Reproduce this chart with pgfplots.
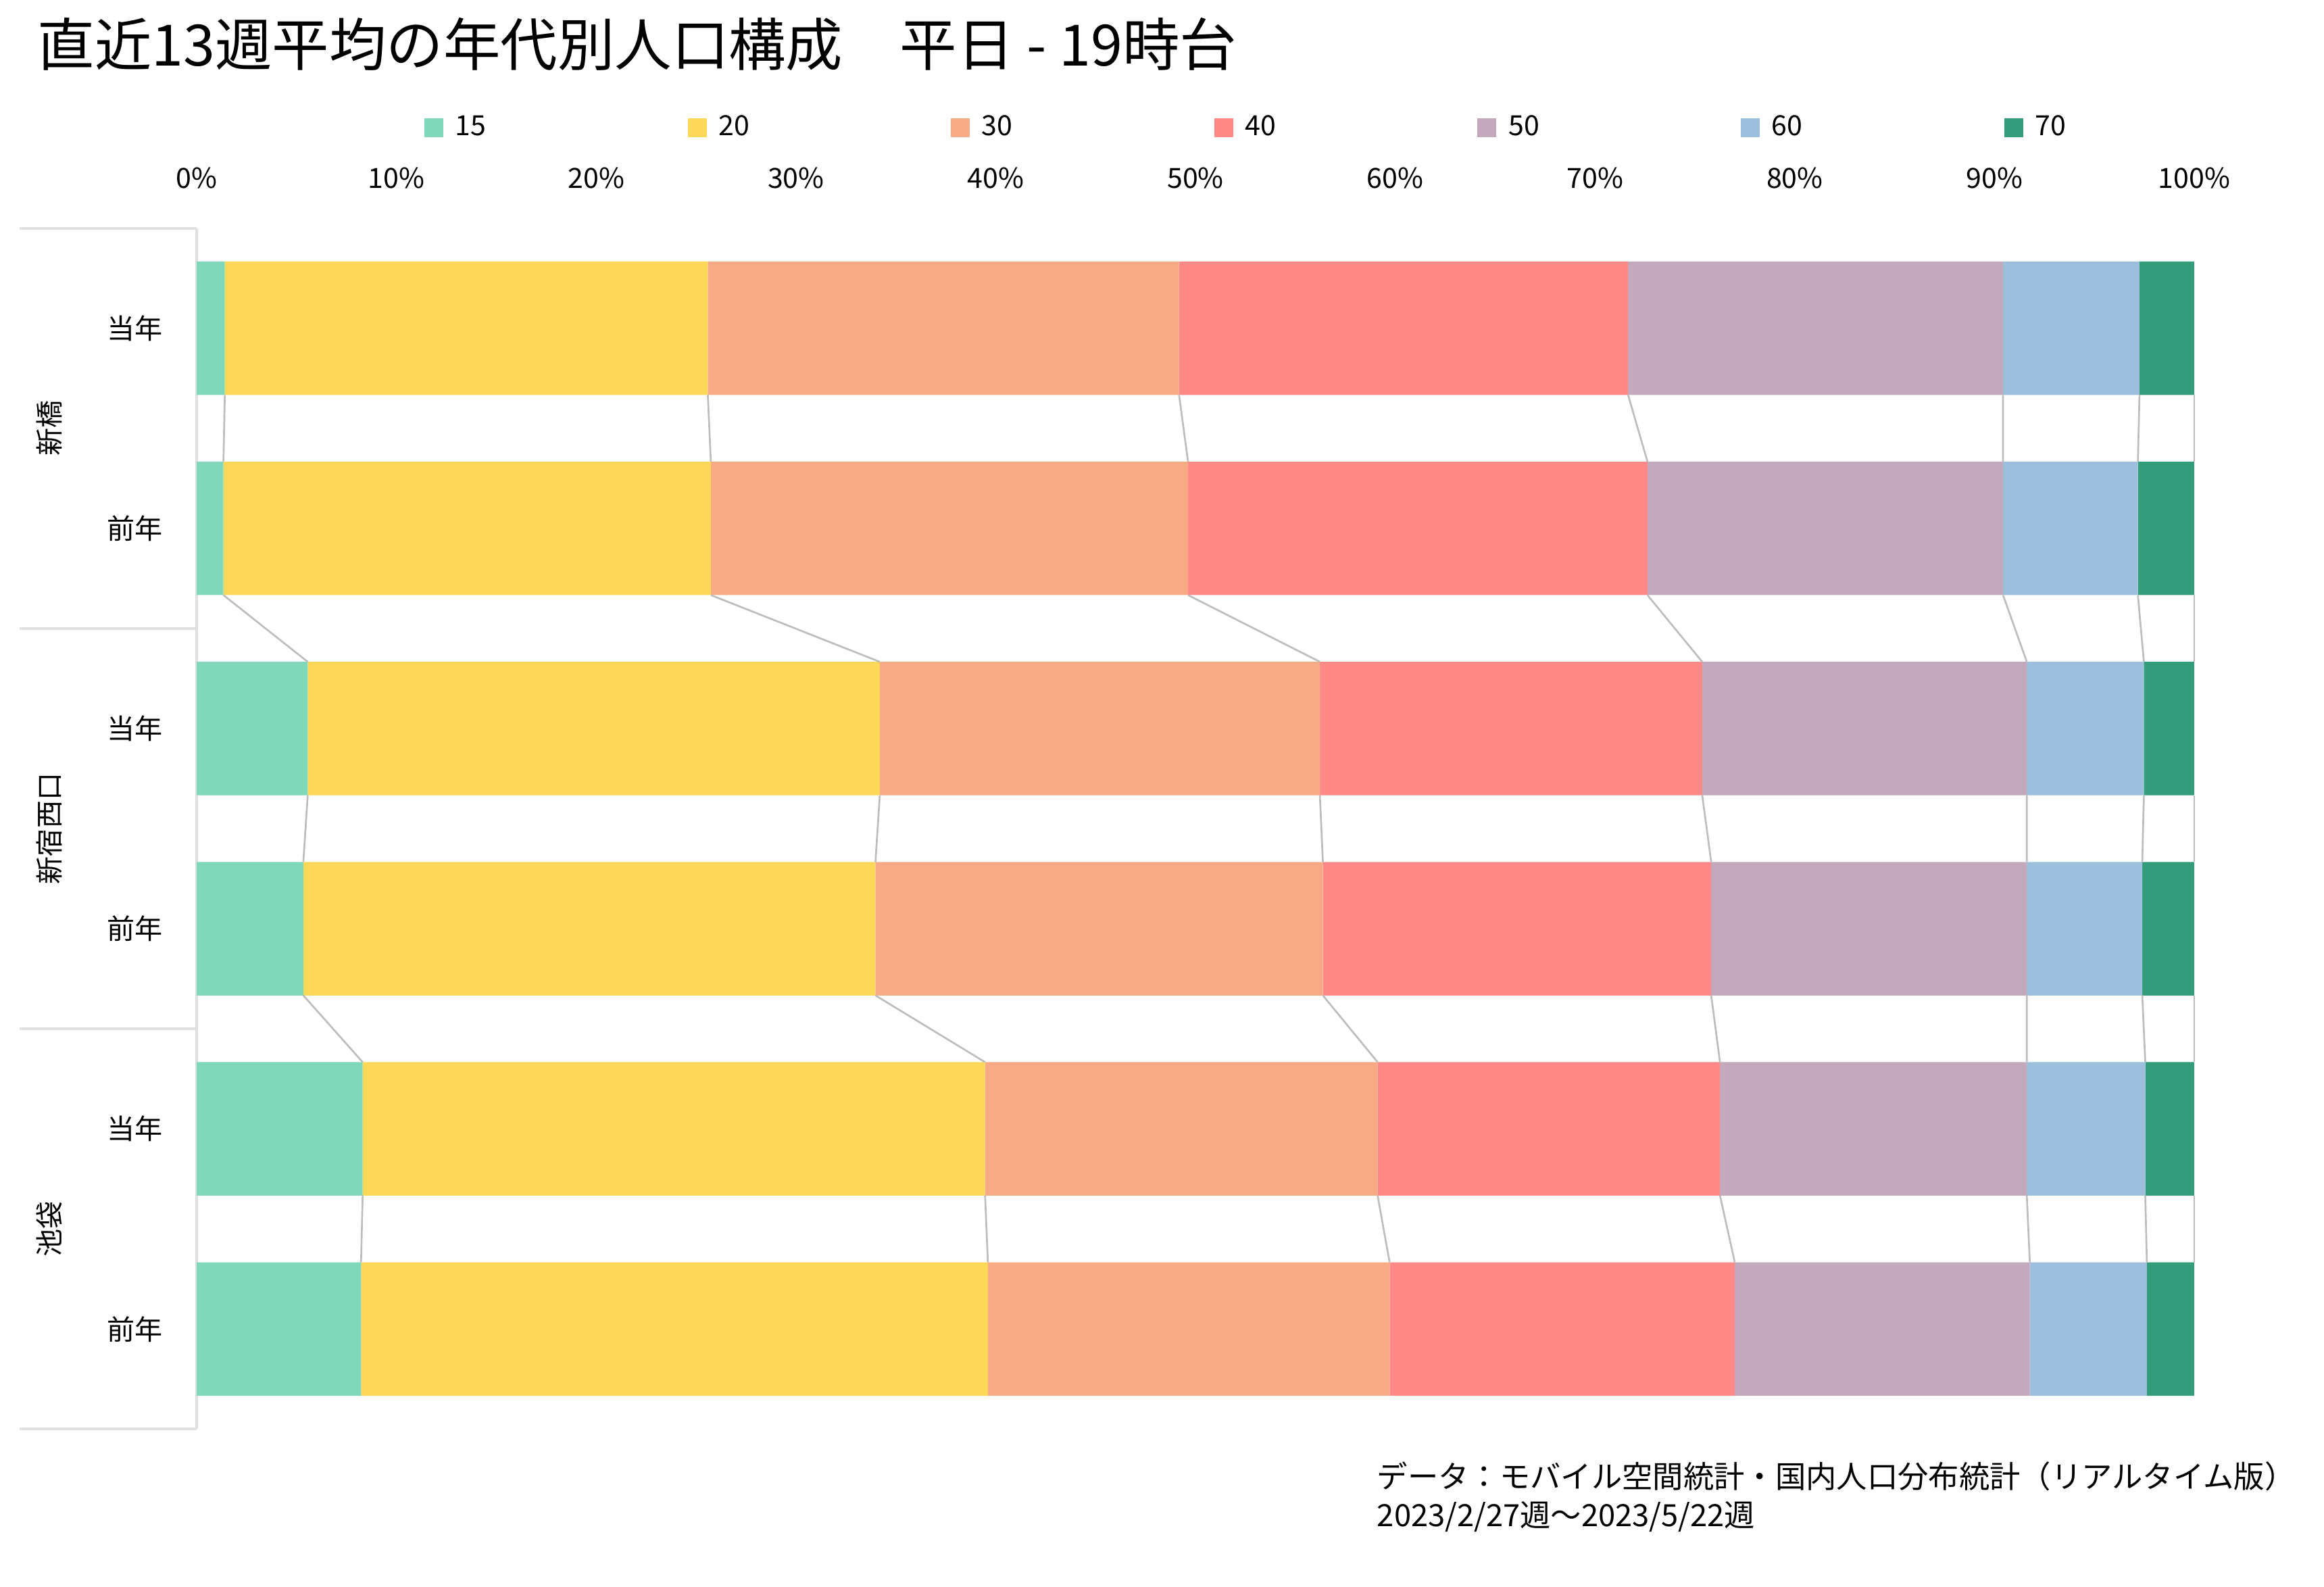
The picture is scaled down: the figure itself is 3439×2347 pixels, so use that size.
\documentclass[border=0pt]{standalone}
\usepackage{fontspec}
\setmainfont{Noto Sans CJK JP}
\usepackage{pgfplots}
\usepackage{pgfplotstable}
\pgfplotsset{compat=1.18}

\definecolor{age15}{HTML}{80D8BA}
\definecolor{age20}{HTML}{FDD757}
\definecolor{age30}{HTML}{F8AA84}
\definecolor{age40}{HTML}{FE8987}
\definecolor{age50}{HTML}{C4A8BB}
\definecolor{age60}{HTML}{9DBFDD}
\definecolor{age70}{HTML}{329C7B}
\definecolor{spine}{HTML}{E0E0E0}
\definecolor{conn}{HTML}{BDBDBD}

\newcommand\lab{\fontsize{9.25}{11}\selectfont}

% share of each age group (%), one row per bar, top bar is y=5
\pgfplotstableread{
y a15 a20 a30 a40 a50 a60 a70
5 1.41 24.18 23.59 22.48 18.77 6.83 2.74
4 1.34 24.40 23.89 23.00 17.80 6.75 2.82
3 5.56 28.64 22.03 19.14 16.25 5.86 2.52
2 5.34 28.64 22.40 19.44 15.80 5.78 2.60
1 8.31 31.16 19.65 17.14 15.36 5.93 2.45
0 8.23 31.38 20.11 17.28 14.77 5.86 2.37
}\shares

% running totals: bottom edge of a bar -> top edge of the next one
\pgfplotstableread{
y b1 b2 b3 b4 b5 b6 b7
4.6667 1.41 25.59 49.18 71.66 90.43 97.26 100
4.3333 1.34 25.74 49.63 72.63 90.43 97.18 100
nan nan nan nan nan nan nan nan
3.6667 1.34 25.74 49.63 72.63 90.43 97.18 100
3.3333 5.56 34.20 56.23 75.37 91.62 97.48 100
nan nan nan nan nan nan nan nan
2.6667 5.56 34.20 56.23 75.37 91.62 97.48 100
2.3333 5.34 33.98 56.38 75.82 91.62 97.40 100
nan nan nan nan nan nan nan nan
1.6667 5.34 33.98 56.38 75.82 91.62 97.40 100
1.3333 8.31 39.47 59.12 76.26 91.62 97.55 100
nan nan nan nan nan nan nan nan
0.6667 8.31 39.47 59.12 76.26 91.62 97.55 100
0.3333 8.23 39.61 59.72 77.00 91.77 97.63 100
}\borders

\pgfplotsset{
  frame/.style={at={(65.48pt,-475.74pt)}, anchor=south west, scale only axis,
    width=665.1pt, height=399.8pt, xmin=0, xmax=100, ymin=-0.5, ymax=5.5,
    enlargelimits=false, clip=false},
  sq/.style={legend image code/.code={\fill[##1] (0pt,-3.15pt) rectangle (6.3pt,3.15pt);}},
  link/.style={conn, line width=0.6pt, unbounded coords=jump, forget plot},
}

\begin{document}
% 1 unit = one pixel of the 3439x2347 image, y pointing down
\begin{tikzpicture}[x=0.225pt,y=-0.225pt]
\useasboundingbox (0,0) rectangle (3439,2347);

\begin{axis}[frame,
  xbar stacked, bar width=0.6667,
  axis line style={draw=none},
  tick style={draw=none}, major tick length=0pt,
  xticklabel pos=upper,
  xtick={0,10,...,100},
  xticklabels={0\%,10\%,20\%,30\%,40\%,50\%,60\%,70\%,80\%,90\%,100\%},
  xticklabel style={font=\lab, inner sep=0pt, anchor=base, yshift=13.2pt},
  ytick={0,...,5},
  yticklabels={前年,当年,前年,当年,前年,当年},
  yticklabel style={font=\lab, inner sep=0pt, anchor=east, xshift=-11.2pt},
  legend columns=7,
  legend style={draw=none, fill=none, at={(0.1137,1.0836)}, anchor=west,
    inner xsep=0pt, inner ysep=0pt, font=\lab, nodes={inner sep=0pt},
    /tikz/every odd column/.append style={column sep=4pt},
    /tikz/every even column/.append style={column sep=67.1pt}},
]
\addplot[fill=age15, draw=none, sq] table[x=a15, y=y]{\shares};
\addplot[fill=age20, draw=none, sq] table[x=a20, y=y]{\shares};
\addplot[fill=age30, draw=none, sq] table[x=a30, y=y]{\shares};
\addplot[fill=age40, draw=none, sq] table[x=a40, y=y]{\shares};
\addplot[fill=age50, draw=none, sq] table[x=a50, y=y]{\shares};
\addplot[fill=age60, draw=none, sq] table[x=a60, y=y]{\shares};
\addplot[fill=age70, draw=none, sq] table[x=a70, y=y]{\shares};
\legend{15,20,30,40,50,60,70}
\draw[spine, line width=0.9pt] (axis cs:0,-0.5) -- (axis cs:0,5.5);
\end{axis}

\begin{axis}[frame, hide axis]
\addplot[link] table[x=b1, y=y]{\borders};
\addplot[link] table[x=b2, y=y]{\borders};
\addplot[link] table[x=b3, y=y]{\borders};
\addplot[link] table[x=b4, y=y]{\borders};
\addplot[link] table[x=b5, y=y]{\borders};
\addplot[link] table[x=b6, y=y]{\borders};
\addplot[link] table[x=b7, y=y]{\borders};
\end{axis}

% group brackets on the left
\foreach \yy in {337.6,929.8,1522.0,2114.4}
  \draw[spine, line width=0.9pt] (28.6,\yy) -- (291,\yy);
\node[rotate=90, font=\lab] at (72.5,633.7) {新橋};
\node[rotate=90, font=\lab] at (72.5,1225.9) {新宿西口};
\node[rotate=90, font=\lab] at (72.5,1818.1) {池袋};

\node[anchor=base west, inner sep=0pt, font=\fontsize{19}{22}\selectfont]
  at (55,97) {直近13週平均の年代別人口構成　平日 - 19時台};

\node[anchor=base west, inner sep=0pt, font=\fontsize{10.2}{12}\selectfont]
  at (2037,2201) {データ：モバイル空間統計・国内人口分布統計（リアルタイム版）};
\node[anchor=base west, inner sep=0pt, font=\fontsize{10.2}{12}\selectfont]
  at (2037,2258) {2023/2/27週～2023/5/22週};
\end{tikzpicture}
\end{document}
